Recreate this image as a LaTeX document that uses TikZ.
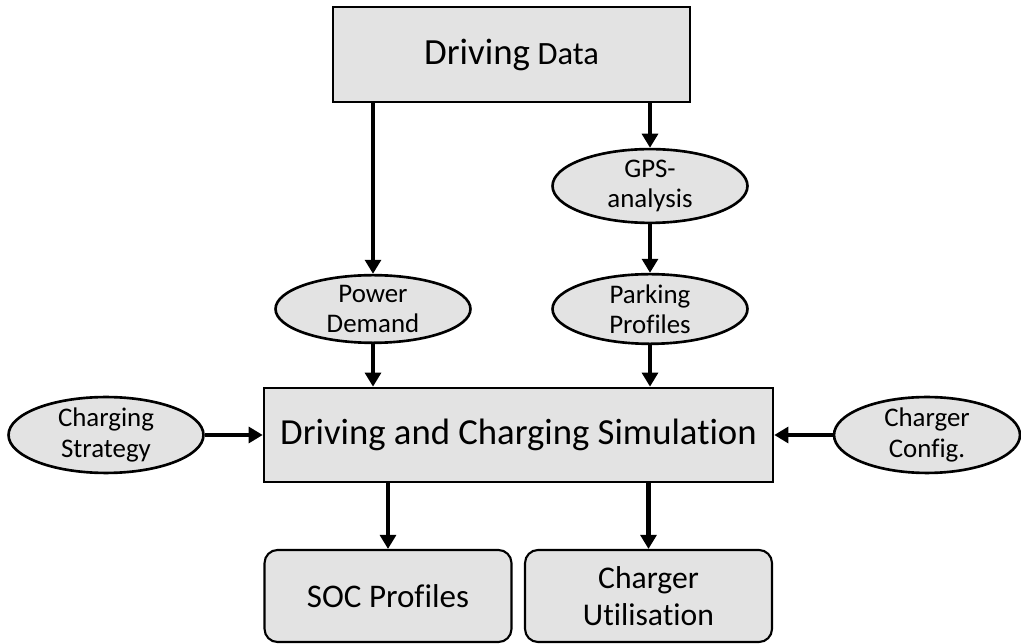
\documentclass[tikz,border=0pt]{standalone}
\usepackage{fontspec}
\setmainfont{Carlito}[Ligatures=NoCommon]
\usetikzlibrary{shapes.geometric,arrows.meta,positioning}
\definecolor{boxgray}{RGB}{227,227,227}
\tikzset{
    block/.style={draw, line width=1.5pt, fill=boxgray, inner sep=0pt, align=center,
        font=\fontsize{18.8}{21}\selectfont},
    oval/.style={ellipse, draw, line width=1.5pt, fill=boxgray, inner sep=0pt, align=center,
        minimum width=3.9cm, minimum height=1.32cm, font=\fontsize{15.3}{17.3}\selectfont},
    result/.style={block, rounded corners=0.26cm, line width=1.2pt,
        minimum width=4.94cm, minimum height=1.84cm},
    flow/.style={-{Triangle[length=8pt,width=9pt]}, line width=2.8pt},
}

\begin{document}
\begin{tikzpicture}[x=0.02cm,y=-0.02cm]
    \useasboundingbox (0,0) rectangle (1021,644);
    % input data
    \node[block,minimum width=7.14cm,minimum height=1.9cm] (data) at (511.5,54.5)
        {{\fontsize{21}{23}\selectfont Driving} {\fontsize{18.5}{20}\selectfont Data}};
    \node[oval,minimum height=1.36cm] (gps)  at (650,186) {GPS-\\analysis};
    \node[oval,minimum height=1.28cm] (pdem) at (373,309) {Power\\Demand};
    \node[oval,minimum height=1.28cm] (park) at (650,309) {Parking\\Profiles};
    % simulation
    \node[block,minimum width=10.18cm,minimum height=1.88cm,font=\fontsize{20.9}{23}\selectfont]
        (sim) at (518.5,435) {Driving and Charging Simulation};
    \node[oval,minimum height=1.34cm] (strat) at (106,435) {Charging\\Strategy};
    \node[oval,minimum width=3.72cm,minimum height=1.36cm] (conf) at (927,435) {Charger\\Config.};
    % outputs
    \node[result] (soc)  at (388,596) {SOC Profiles};
    \node[result,font=\fontsize{18}{21}\selectfont] (util) at (648.5,596) {Charger\\Utilisation};
    \path[flow]
    (pdem |- data.south) edge (pdem)
    (gps |- data.south) edge (gps)
    (gps) edge (park)
    (pdem) edge (pdem |- sim.north)
    (park) edge (park |- sim.north)
    (strat) edge (sim)
    (conf) edge (sim)
    (soc |- sim.south) edge (soc)
    (util |- sim.south) edge (util);
\end{tikzpicture}
\end{document}
